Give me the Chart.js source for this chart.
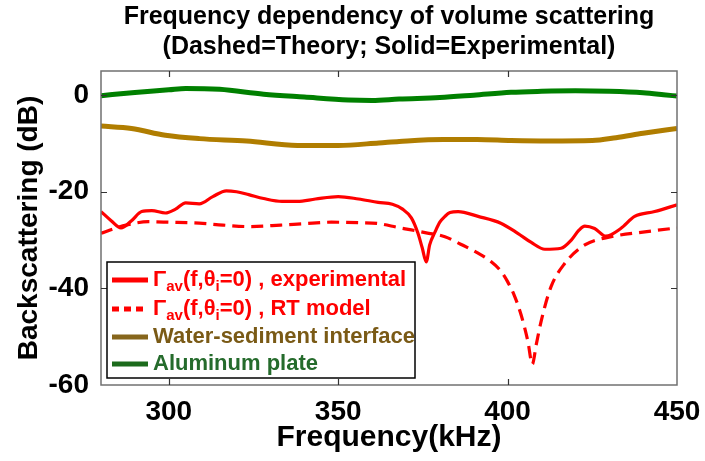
<!DOCTYPE html>
<html>
<head>
<meta charset="utf-8">
<script src="https://cdn.jsdelivr.net/npm/chart.js@4.4.1/dist/chart.umd.min.js"></script>
<style>
  html, body { margin: 0; padding: 0; background: #fff; }
</style>
</head>
<body>
<canvas id="myChart" width="705" height="461"></canvas>
<script>
// axis ticks
const xTicks = [300, 350, 400, 450];
const yTicks = [-60, -40, -20, 0];

// Gamma_av experimental (solid red)
const expFreq = [280, 283, 285.9, 289, 292, 295, 299, 302, 305, 309, 313, 317, 320, 323.6, 328, 333.4, 338, 343.3, 350, 356, 361.8, 366, 369, 371.6, 373.5, 374.8, 376, 377, 378.6, 380, 381.5, 383, 385.4, 391.3, 398, 403, 407, 411, 415.8, 418.8, 421, 422.8, 425.7, 429, 433.4, 437.5, 443.4, 450];
const expDb = [-24.1, -26.0, -27.5, -26.0, -24.1, -23.9, -24.4, -23.6, -22.3, -22.5, -21.0, -19.8, -20.0, -20.6, -21.4, -22.0, -22.0, -21.5, -21.0, -21.5, -22.2, -22.6, -23.6, -25.4, -28.5, -31.6, -34.5, -31.0, -28.3, -26.3, -25.1, -24.3, -24.1, -25.1, -26.5, -28.6, -30.5, -31.9, -31.7, -30.0, -28.0, -27.1, -27.6, -29.2, -27.6, -25.1, -24.1, -22.7];

// Gamma_av RT model (dashed red)
const rtFreq = [280, 284, 287.4, 294, 300, 309, 316, 323.6, 333, 340, 348, 356, 362, 367.7, 371.6, 376, 381.5, 386, 391, 395, 398, 400, 402, 404, 406, 407.3, 408.5, 410, 412.8, 416.8, 422.8, 430.6, 440.5, 448.6, 450];
const rtDb = [-28.6, -27.6, -26.9, -26.2, -26.3, -26.5, -26.9, -27.2, -26.9, -26.6, -26.3, -26.4, -26.6, -27.4, -27.9, -28.5, -29.3, -30.8, -32.6, -34.4, -36.4, -38.6, -41.5, -45.5, -51.0, -55.7, -51.5, -46.5, -39.7, -34.9, -31.0, -29.3, -28.3, -27.6, -27.5];

// water-sediment interface
const wsFreq = [280, 289, 299, 309, 323, 338, 350, 362, 368, 381, 391, 401, 412, 425, 432, 440, 450];
const wsDb = [-6.4, -6.9, -8.3, -9.0, -9.5, -10.4, -10.4, -9.9, -9.6, -9.2, -9.2, -9.4, -9.5, -9.4, -8.8, -7.9, -6.9];

// aluminum plate
const alFreq = [280, 290, 300, 305, 315, 328, 340, 353, 360, 368, 380, 390, 401, 410, 420, 430, 440, 446, 450];
const alDb = [-0.1, 0.55, 1.1, 1.4, 1.2, 0.2, -0.4, -1.0, -1.1, -0.8, -0.5, 0.0, 0.6, 0.8, 0.9, 0.8, 0.5, 0.1, -0.2];

// legend text, [text, isSubscript]
const legendLabels = [
  [['Γ', 0], ['av', 1], ['(f,θ', 0], ['i', 1], ['=0) , experimental', 0]],
  [['Γ', 0], ['av', 1], ['(f,θ', 0], ['i', 1], ['=0) , RT model', 0]],
  [['Water-sediment interface', 0]],
  [['Aluminum plate', 0]]
];

const toPoints = (xs, ys) => xs.map((v, i) => ({x: v, y: ys[i]}));

Chart.defaults.font.family = '"Liberation Sans", Arial, sans-serif';
Chart.defaults.color = '#000';

const FONT = '"Liberation Sans", Arial, sans-serif';

// matlab style box with inward ticks
const frame = {
  id: 'frame',
  afterDatasetsDraw(chart) {
    const {ctx, chartArea: a, scales: {x, y}} = chart;
    ctx.save();
    ctx.strokeStyle = '#707070';
    ctx.lineWidth = 1.5;
    ctx.strokeRect(a.left, a.top, a.right - a.left, a.bottom - a.top);
    ctx.lineWidth = 1.2;
    ctx.strokeStyle = '#333';
    ctx.beginPath();
    xTicks.forEach(v => {
      const px = Math.round(x.getPixelForValue(v)) + 0.5;
      if (px > a.right - 2) return;
      ctx.moveTo(px, a.bottom); ctx.lineTo(px, a.bottom - 6);
      ctx.moveTo(px, a.top); ctx.lineTo(px, a.top + 6);
    });
    yTicks.forEach(v => {
      const py = Math.round(y.getPixelForValue(v)) + 0.5;
      if (py > a.bottom - 2) return;
      ctx.moveTo(a.left, py); ctx.lineTo(a.left + 6, py);
      ctx.moveTo(a.right, py); ctx.lineTo(a.right - 6, py);
    });
    ctx.stroke();
    ctx.restore();
  }
};

// legend box with subscripts
const boxLegend = {
  id: 'boxLegend',
  afterDraw(chart) {
    const ctx = chart.ctx;
    const bx = 107, by = 262, bw = 308, bh = 116;
    const rows = [280, 309, 337, 364];
    ctx.save();
    ctx.fillStyle = '#fff';
    ctx.fillRect(bx, by, bw, bh);
    ctx.strokeStyle = '#000';
    ctx.lineWidth = 1.5;
    ctx.strokeRect(bx, by, bw, bh);
    chart.data.datasets.forEach((ds, i) => {
      const cy = rows[i];
      ctx.strokeStyle = ds.legendLine;
      ctx.lineWidth = 5;
      ctx.setLineDash(ds.borderDash && ds.borderDash.length ? [7, 5] : []);
      ctx.beginPath();
      ctx.moveTo(112, cy); ctx.lineTo(148, cy);
      ctx.stroke();
      ctx.setLineDash([]);
      let tx = 153;
      ctx.fillStyle = ds.legendText;
      ctx.textBaseline = 'middle';
      legendLabels[i].forEach(([t, sub]) => {
        ctx.font = sub ? 'bold 15px ' + FONT : 'bold 22px ' + FONT;
        ctx.fillText(t, tx, sub ? cy + 7 : cy);
        tx += ctx.measureText(t).width;
      });
    });
    ctx.restore();
  }
};

new Chart(document.getElementById('myChart'), {
  type: 'line',
  data: {
    datasets: [
      {
        label: 'Γav(f,θi=0) , experimental',
        data: toPoints(expFreq, expDb),
        borderColor: '#ff0000',
        borderWidth: 3.2,
        legendLine: '#ff0000',
        legendText: '#ff0000'
      },
      {
        label: 'Γav(f,θi=0) , RT model',
        data: toPoints(rtFreq, rtDb),
        borderColor: '#ff0000',
        borderWidth: 3.2,
        borderDash: [12, 7],
        legendLine: '#ff0000',
        legendText: '#ff0000'
      },
      {
        label: 'Water-sediment interface',
        data: toPoints(wsFreq, wsDb),
        borderColor: '#b07d00',
        borderWidth: 5,
        legendLine: '#86661c',
        legendText: '#7a5a16'
      },
      {
        label: 'Aluminum plate',
        data: toPoints(alFreq, alDb),
        borderColor: '#008000',
        borderWidth: 5,
        legendLine: '#1c6b1c',
        legendText: '#256b2c'
      }
    ]
  },
  options: {
    responsive: false,
    animation: false,
    elements: {
      point: { radius: 0 },
      line: { cubicInterpolationMode: 'monotone', fill: false }
    },
    layout: { padding: { left: 0, right: 28, top: 0, bottom: 0 } },
    plugins: {
      legend: { display: false },
      tooltip: { enabled: false },
      title: {
        display: true,
        fullSize: false,
        text: ['Frequency dependency of volume scattering', '(Dashed=Theory; Solid=Experimental)'],
        font: { size: 25, weight: 'bold', lineHeight: 1.2 },
        color: '#000',
        padding: { top: 2, bottom: 9 }
      }
    },
    scales: {
      x: {
        type: 'linear',
        min: 280,
        max: 450,
        grid: { display: false },
        border: { display: false },
        afterBuildTicks: s => { s.ticks = xTicks.map(v => ({value: v})); },
        afterFit: s => { s.height = 76; },
        ticks: { font: { size: 28, weight: 'bold' }, padding: 2, maxRotation: 0, color: '#000' },
        title: {
          display: true,
          text: 'Frequency(kHz)',
          font: { size: 30, weight: 'bold', lineHeight: 1.2 },
          color: '#000',
          padding: { top: 0, bottom: 5 }
        }
      },
      y: {
        type: 'linear',
        min: -60,
        max: 5,
        grid: { display: false },
        border: { display: false },
        afterBuildTicks: s => { s.ticks = yTicks.map(v => ({value: v})); },
        afterFit: s => { s.width = 101; },
        ticks: { font: { size: 28, weight: 'bold' }, padding: 4, color: '#000' },
        title: {
          display: true,
          text: 'Backscattering (dB)',
          font: { size: 28, weight: 'bold', lineHeight: 1.2 },
          color: '#000',
          padding: { top: 12, bottom: 0 }
        }
      }
    }
  },
  plugins: [frame, boxLegend]
});
</script>
</body>
</html>
